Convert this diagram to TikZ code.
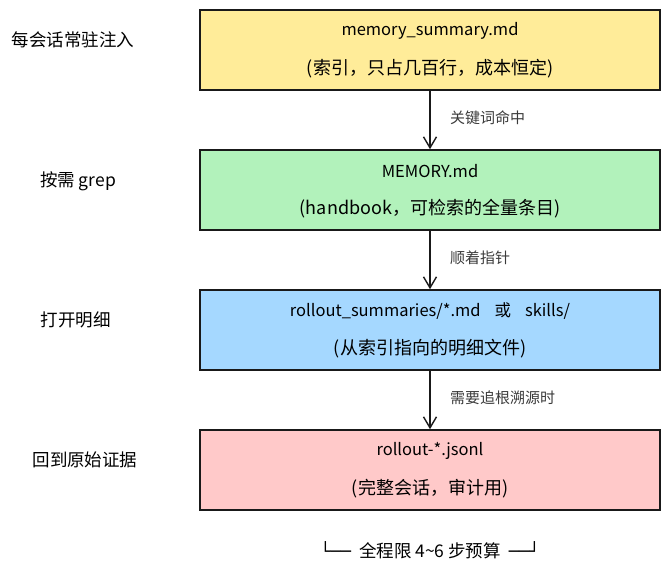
\documentclass[tikz,border=0pt]{standalone}
\usepackage{fontspec}
\setmainfont{Noto Sans CJK SC}
\newfontfamily\boxfont{DejaVu Sans Mono}
\usetikzlibrary{arrows.meta}
\definecolor{cyellow}{HTML}{FFEC99}
\definecolor{cgreen}{HTML}{B2F2BB}
\definecolor{cblue}{HTML}{A5D8FF}
\definecolor{cpink}{HTML}{FFC9C9}
\definecolor{cgray}{HTML}{3A3A3A}
\tikzset{
  stagebox/.style={draw=black!90, line width=1.6pt, minimum width=460pt, minimum height=80pt, inner sep=0pt},
  titletext/.style={font=\fontsize{16.5}{18}\selectfont, inner sep=0pt},
  subtext/.style={font=\fontsize{18}{20}\selectfont, inner sep=0pt},
  sidetext/.style={font=\fontsize{17.5}{19}\selectfont, inner sep=0pt},
  arrlabel/.style={font=\fontsize{15}{17}\selectfont, text=cgray, anchor=west, inner sep=0pt},
  flowarrow/.style={draw=black!90, line width=1.4pt, -{Straight Barb[length=11pt,width=13pt,line width=1.4pt]}},
}
\begin{document}
\begin{tikzpicture}[x=1pt,y=-1pt]
\useasboundingbox (0,0) rectangle (670,576);
% boxes
\node[stagebox, fill=cyellow] (b1) at (430,50) {};
\node[stagebox, fill=cgreen] (b2) at (430,190) {};
\node[stagebox, fill=cblue] (b3) at (430,330) {};
\node[stagebox, fill=cpink] (b4) at (430,470) {};
% box texts
\node[titletext] (t1a) at (430,31) {memory\_summary.md};
\node[subtext] (t1b) at (430,69) {(索引，只占几百行，成本恒定)};
\node[titletext] (t2a) at (430,171) {MEMORY.md};
\node[subtext] (t2b) at (430,209) {(handbook，可检索的全量条目)};
\node[titletext] (t3a) at (430,311) {rollout\_summaries/*.md\hspace{14pt}或\hspace{14pt}skills/};
\node[subtext] (t3b) at (430,349) {(从索引指向的明细文件)};
\node[titletext] (t4a) at (430,451) {rollout-*.jsonl};
\node[subtext] (t4b) at (430,489) {(完整会话，审计用)};
% arrows
\draw[flowarrow] (b1.south) -- (b2.north);
\draw[flowarrow] (b2.south) -- (b3.north);
\draw[flowarrow] (b3.south) -- (b4.north);
\node[arrlabel] (l1) at (450,118) {关键词命中};
\node[arrlabel] (l2) at (450,258) {顺着指针};
\node[arrlabel] (l3) at (450,398) {需要追根溯源时};
% side labels
\node[sidetext] (s1) at (73,40) {每会话常驻注入};
\node[sidetext] (s2) at (78,181) {按需 grep};
\node[sidetext] (s3) at (76,320) {打开明细};
\node[sidetext] (s4) at (85,460) {回到原始证据};
% bottom note
\node[font=\fontsize{17.5}{19}\selectfont, inner sep=0pt] (note) at (430,550) {{\boxfont\fontsize{17}{18}\selectfont └──}\hspace{8pt}全程限 4\textasciitilde 6 步预算\hspace{8pt}{\boxfont\fontsize{17}{18}\selectfont ──┘}};
\end{tikzpicture}
\end{document}
